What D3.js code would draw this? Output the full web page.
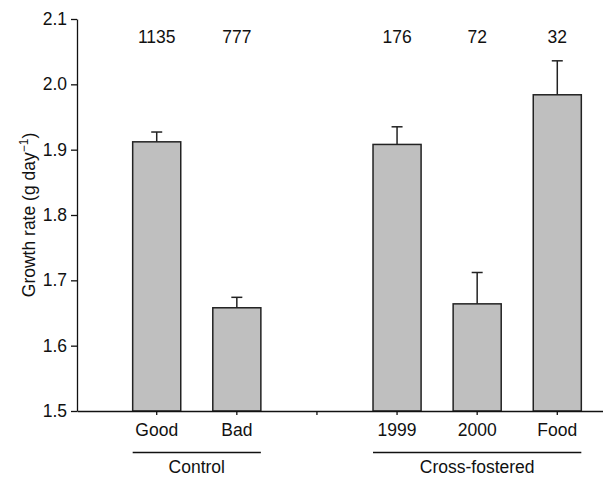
<!DOCTYPE html>
<html>
<head>
<meta charset="utf-8">
<script src="https://cdn.jsdelivr.net/npm/d3@7"></script>
<style>
  body { margin: 0; background: #fff; }
  svg text { font-family: "Liberation Sans", Arial, Helvetica, sans-serif; fill: #111; }
</style>
</head>
<body>
<div id="chart"></div>
<script>
// data
var categories = ["Good", "Bad", "gap", "1999", "2000", "Food"];
var means = [1.912, 1.658, null, 1.908, 1.664, 1.984];
var upperErr = [0.015, 0.016, null, 0.027, 0.048, 0.052];
var counts = [1135, 777, null, 176, 72, 32];
var groupNames = ["Control", "Cross-fostered"];
var groupFrom = ["Good", "1999"];
var groupTo = ["Bad", "Food"];
var yTicks = [1.5, 1.6, 1.7, 1.8, 1.9, 2.0, 2.1];

var width = 603, height = 477;
var fs = 17.5;

var svg = d3.select("#chart").append("svg")
  .attr("width", width).attr("height", height);

var x = d3.scaleBand().domain(categories)
  .range([77, 637]).paddingInner(0.4).paddingOuter(0.695);
var y = d3.scaleLinear().domain([1.5, 2.1]).range([411, 19]);

var rows = categories.map(function(c, i){
  return { cat: c, mean: means[i], err: upperErr[i], n: counts[i] };
}).filter(function(d){ return d.mean != null; });

// bars
svg.selectAll("rect.bar").data(rows).enter().append("rect")
  .attr("class", "bar")
  .attr("x", function(d){ return x(d.cat); })
  .attr("width", x.bandwidth())
  .attr("y", function(d){ return y(d.mean); })
  .attr("height", function(d){ return y(1.5) - y(d.mean); })
  .attr("fill", "#bfbfbf").attr("stroke", "#222").attr("stroke-width", 1.5);

// error bars (upper only)
var cx = function(d){ return x(d.cat) + x.bandwidth() / 2; };
svg.selectAll("line.err").data(rows).enter().append("line")
  .attr("x1", cx).attr("x2", cx)
  .attr("y1", function(d){ return y(d.mean); })
  .attr("y2", function(d){ return y(d.mean + d.err); })
  .attr("stroke", "#222").attr("stroke-width", 1.5);
svg.selectAll("line.cap").data(rows).enter().append("line")
  .attr("x1", function(d){ return cx(d) - 5.5; })
  .attr("x2", function(d){ return cx(d) + 5.5; })
  .attr("y1", function(d){ return y(d.mean + d.err); })
  .attr("y2", function(d){ return y(d.mean + d.err); })
  .attr("stroke", "#222").attr("stroke-width", 1.5);

// sample sizes on top
svg.selectAll("text.n").data(rows).enter().append("text")
  .attr("x", cx).attr("y", 43)
  .attr("text-anchor", "middle").style("font-size", fs + "px")
  .text(function(d){ return d.n; });

// y axis
var yAxis = svg.append("g").attr("transform", "translate(77,0)")
  .call(d3.axisLeft(y).tickValues(yTicks).tickFormat(d3.format(".1f"))
    .tickSize(6).tickSizeOuter(0).tickPadding(4));
yAxis.selectAll("text").style("font-size", fs + "px").attr("fill", "#111");
yAxis.selectAll("path, line").attr("stroke", "#111").attr("stroke-width", 1.3);

// x axis
var xAxis = svg.append("g").attr("transform", "translate(0,411)")
  .call(d3.axisBottom(x).tickSize(4).tickSizeOuter(0).tickPadding(9)
    .tickFormat(function(d){ return d === "gap" ? "" : d; }));
xAxis.selectAll("text").style("font-size", fs + "px").attr("fill", "#111");
xAxis.selectAll("path, line").attr("stroke", "#111").attr("stroke-width", 1.3);

// group lines and labels
groupNames.forEach(function(g, i){
  var x0 = x(groupFrom[i]), x1 = x(groupTo[i]) + x.bandwidth();
  svg.append("line").attr("x1", x0).attr("x2", x1)
    .attr("y1", 452.5).attr("y2", 452.5)
    .attr("stroke", "#111").attr("stroke-width", 1.3);
  svg.append("text").attr("x", (x0 + x1) / 2).attr("y", 473)
    .attr("text-anchor", "middle").style("font-size", fs + "px")
    .text(g);
});

// y title
var yt = svg.append("text")
  .attr("transform", "translate(35," + ((y(1.5) + y(2.1)) / 2) + ") rotate(-90)")
  .attr("text-anchor", "middle").style("font-size", fs + "px");
yt.append("tspan").text("Growth rate (g day");
yt.append("tspan").attr("dy", -7).style("font-size", "12px").text("\u22121");
yt.append("tspan").attr("dy", 7).text(")");
</script>
</body>
</html>
